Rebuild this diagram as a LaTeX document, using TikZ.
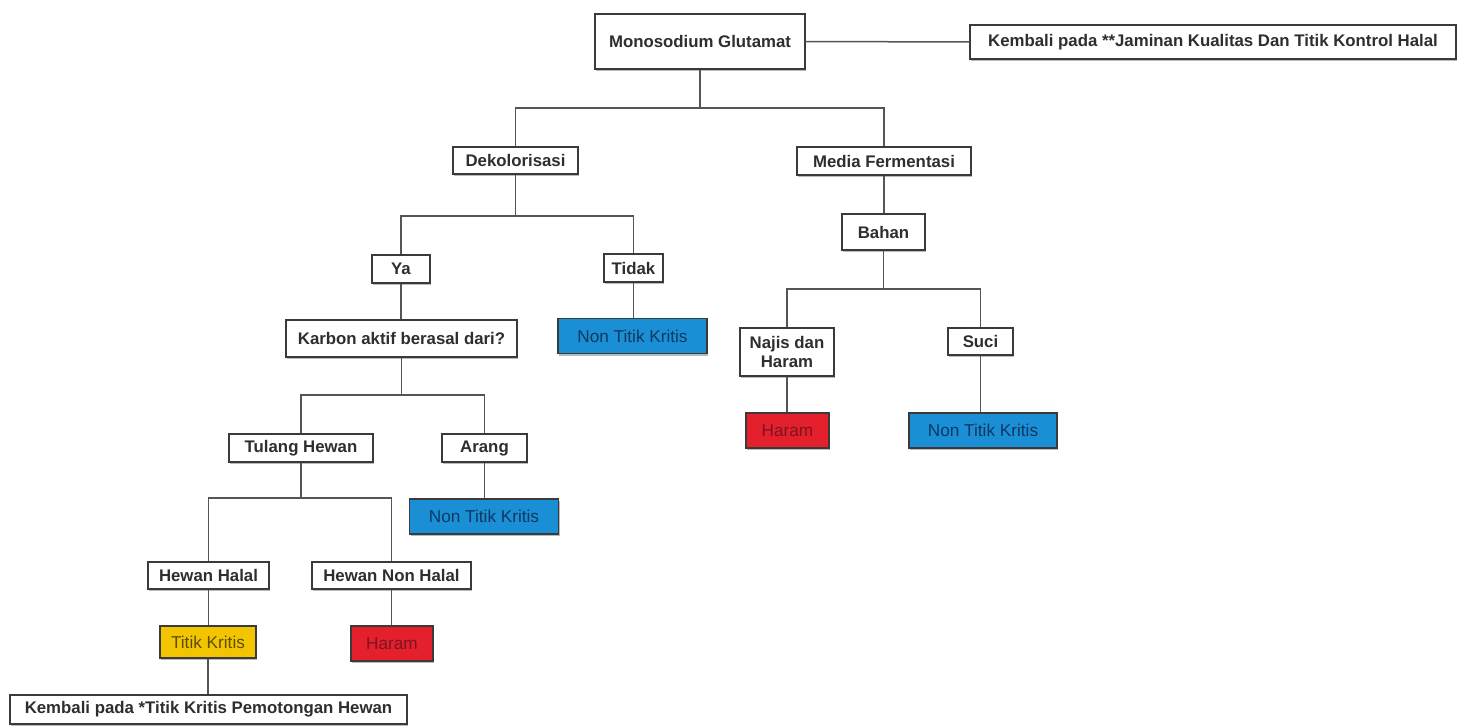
\documentclass[tikz,border=0pt]{standalone}
\usepackage{fontspec}
\setmainfont{Liberation Sans}
\usetikzlibrary{shadows}
\definecolor{edgegray}{HTML}{555555}
\definecolor{framegray}{HTML}{3A3A3A}
\definecolor{textgray}{HTML}{2E2E2E}
\definecolor{ntkblue}{HTML}{1A8FD5}
\definecolor{ntktext}{HTML}{0F3860}
\definecolor{haramred}{HTML}{E3202C}
\definecolor{haramtext}{HTML}{7E1420}
\definecolor{kritisyellow}{HTML}{F2C500}
\definecolor{kritistext}{HTML}{5E4C00}
\begin{document}
\begin{tikzpicture}[x=1pt,y=-1pt,
  box/.style={draw=framegray, line width=1.2pt, fill=white, inner sep=0pt,
    font=\fontsize{16.8}{19}\selectfont\bfseries, text=textgray, align=center,
    drop shadow={shadow xshift=1pt, shadow yshift=-2pt, fill=black!45, opacity=0.6}},
  colourbox/.style={box, font=\fontsize{17.2}{19}\selectfont},
  ntk/.style={colourbox, fill=ntkblue, text=ntktext},
  haram/.style={colourbox, fill=haramred, text=haramtext},
  kritis/.style={colourbox, fill=kritisyellow, text=kritistext},
  link/.style={draw=edgegray, line width=1.5pt}]
\useasboundingbox (0,0) rectangle (1458,725);

% top level
\node[box, minimum width=210, minimum height=55] (msg) at (700,41.5) {Monosodium Glutamat};
\node[box, minimum width=486, minimum height=34] (kb1) at (1213,42) {Kembali pada **Jaminan Kualitas Dan Titik Kontrol Halal};

% second level
\node[box, minimum width=125, minimum height=27] (dek) at (515.5,160.5) {Dekolorisasi};
\node[box, minimum width=174, minimum height=28] (mf) at (884,161) {Media Fermentasi};

% decolourisation branch
\node[box, minimum width=58, minimum height=28] (ya) at (401,269) {Ya};
\node[box, minimum width=59, minimum height=28] (tidak) at (633.5,268) {Tidak};
\node[ntk, minimum width=149, minimum height=35] (ntk1) at (632.5,336) {Non Titik Kritis};
\node[box, minimum width=231, minimum height=37] (karbon) at (401.5,338.5) {Karbon aktif berasal dari?};
\node[box, minimum width=144, minimum height=28] (tulang) at (301,448) {Tulang Hewan};
\node[box, minimum width=85, minimum height=28] (arang) at (484.5,448) {Arang};
\node[ntk, minimum width=149, minimum height=35] (ntk2) at (484,516.5) {Non Titik Kritis};
\node[box, minimum width=121, minimum height=27] (hh) at (208.5,575.5) {Hewan Halal};
\node[box, minimum width=159, minimum height=27] (hnh) at (391.5,575.5) {Hewan Non Halal};
\node[kritis, minimum width=96, minimum height=32] (tk) at (208,642) {Titik Kritis};
\node[haram, minimum width=82, minimum height=35] (haram2) at (392,643.5) {Haram};
\node[box, minimum width=397, minimum height=29] (kb2) at (208.5,709.5) {Kembali pada *Titik Kritis Pemotongan Hewan};

% fermentation medium branch
\node[box, minimum width=83, minimum height=36] (bahan) at (883.5,232) {Bahan};
\node[box, minimum width=94, minimum height=48] (najis) at (787,352) {Najis dan\\Haram};
\node[box, minimum width=65, minimum height=27] (suci) at (980.5,341.5) {Suci};
\node[haram, minimum width=83, minimum height=35] (haram1) at (787.5,430.5) {Haram};
\node[ntk, minimum width=148, minimum height=35] (ntk3) at (983,430.5) {Non Titik Kritis};

% junction points of the elbow connectors
\coordinate (j1) at (700,108);
\coordinate (j2) at (515.5,216);
\coordinate (j3) at (883.5,289);
\coordinate (j4) at (401.5,395);
\coordinate (j5) at (301,498);

\path[link] (msg.east) -- (kb1.west);
\path[link] (msg.south) -- (j1);
\path[link] (j1) -| (dek.north);
\path[link] (j1) -| (mf.north);
\path[link] (dek.south) -- (j2);
\path[link] (j2) -| (ya.north);
\path[link] (j2) -| (tidak.north);
\path[link] (tidak.south) -- (tidak.south |- ntk1.north);
\path[link] (mf.south) -- (mf.south |- bahan.north);
\path[link] (bahan.south) -- (j3);
\path[link] (j3) -| (najis.north);
\path[link] (j3) -| (suci.north);
\path[link] (najis.south) -- (najis.south |- haram1.north);
\path[link] (suci.south) -- (suci.south |- ntk3.north);
\path[link] (ya.south) -- (ya.south |- karbon.north);
\path[link] (karbon.south) -- (j4);
\path[link] (j4) -| (tulang.north);
\path[link] (j4) -| (arang.north);
\path[link] (arang.south) -- (arang.south |- ntk2.north);
\path[link] (tulang.south) -- (j5);
\path[link] (j5) -| (hh.north);
\path[link] (j5) -| (hnh.north);
\path[link] (hh.south) -- (hh.south |- tk.north);
\path[link] (hnh.south) -- (hnh.south |- haram2.north);
\path[link] (tk.south) -- (tk.south |- kb2.north);
\end{tikzpicture}
\end{document}
